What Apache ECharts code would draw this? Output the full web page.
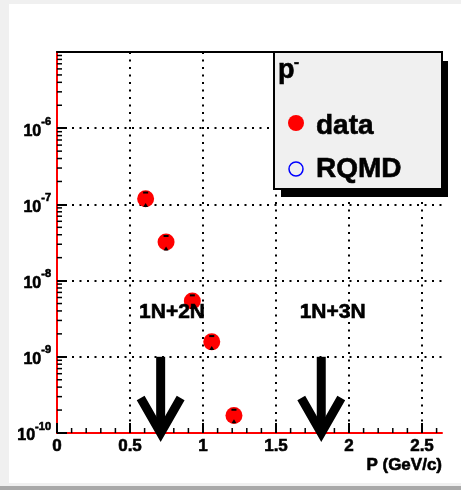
<!DOCTYPE html>
<html>
<head>
<meta charset="utf-8">
<script src="https://cdn.jsdelivr.net/npm/echarts@6/dist/echarts.min.js"></script>
<style>
  html, body { margin: 0; padding: 0; background: #f0f0f0; width: 461px; height: 490px; overflow: hidden; }
  #panel { position: absolute; left: 9px; top: 4px; width: 452px; height: 479px; background: #ffffff; }
  #strip { position: absolute; left: 0; top: 486px; width: 461px; height: 4px; background: #a8a8a8; }
  #chart { position: absolute; left: 0; top: 0; width: 461px; height: 490px; }
</style>
</head>
<body>
<div id="panel"></div>
<div id="strip"></div>
<div id="chart"></div>
<script>
// Measured antiproton yield vs momentum
const momentum = [0.607, 0.747, 0.927, 1.06, 1.212];
const yieldData = [1.19e-7, 3.2e-8, 5.4e-9, 1.57e-9, 1.7e-10];
const yieldErr = [0.24e-7, 0.65e-8, 1.0e-9, 0.3e-9, 0.32e-10];

// Production thresholds, marked with arrows
const thresholdP = [0.71, 1.81];
const thresholdNames = ['1N+2N', '1N+3N'];
const arrowFrom = [1e-9, 1e-9];
const arrowTo = [1e-10, 1e-10];
const nameP = [0.788, 1.888];
const nameY = [3.8e-9, 3.8e-9];

// Axis ranges and minor tick positions
const xRange = [0, 2.637];
const yRange = [1e-10, 1e-5];
const xTitle = 'P (GeV/c)';
const xMinorTicks = [0.1, 0.2, 0.3, 0.4, 0.6, 0.7, 0.8, 0.9, 1.1, 1.2, 1.3, 1.4,
                     1.6, 1.7, 1.8, 1.9, 2.1, 2.2, 2.3, 2.4, 2.6];
const yDecades = [-10, -9, -8, -7, -6];
const yMantissas = [2, 3, 4, 5, 6, 7, 8, 9];

const FONT = '"Liberation Sans", Arial, Helvetica, sans-serif';
// slightly heavier strokes for the bold texts
const heavyLabel = { textBorderColor: '#000', textBorderWidth: 0.6 };
const heavyText = { stroke: '#000', lineWidth: 0.6 };

const yMinorTicks = [];
yDecades.forEach(d => yMantissas.forEach(m => yMinorTicks.push([0, m * Math.pow(10, d)])));

const chart = echarts.init(document.getElementById('chart'), null, { renderer: 'canvas' });

const dotted = { color: '#000', width: 2, type: [2, 5.5] };

const option = {
  animation: false,
  backgroundColor: 'transparent',
  grid: { left: 57, top: 52, width: 385, height: 381, containLabel: false, outerBoundsMode: 'none' },
  xAxis: [{
    type: 'value', min: xRange[0], max: xRange[1], interval: 0.5,
    axisLine: { show: true, onZero: false, lineStyle: { color: '#ff0000', width: 2 } },
    axisTick: { show: true, inside: true, length: 10, lineStyle: { color: '#000', width: 2 } },
    splitLine: { show: true, showMaxLine: false, lineStyle: dotted },
    axisLabel: Object.assign({
      showMaxLabel: false, margin: 5, color: '#000',
      fontFamily: FONT, fontWeight: 'bold', fontSize: 17,
      formatter: v => String(v)
    }, heavyLabel)
  }, {
    type: 'value', position: 'top', min: xRange[0], max: xRange[1],
    axisLine: { show: true, lineStyle: { color: '#000', width: 2 } },
    axisTick: { show: false }, axisLabel: { show: false }, splitLine: { show: false }
  }],
  yAxis: [{
    type: 'log', logBase: 10, min: yRange[0], max: yRange[1], splitNumber: 5,
    axisLine: { show: true, lineStyle: { color: '#000', width: 2 } },
    axisTick: { show: true, inside: true, length: 10, lineStyle: { color: '#000', width: 2 } },
    splitLine: { show: true, lineStyle: dotted },
    axisLabel: {
      showMaxLabel: false, margin: 6, color: '#000',
      formatter: v => '{b|10}{s|' + Math.round(Math.log10(v)) + '}',
      rich: {
        b: Object.assign({ fontFamily: FONT, fontWeight: 'bold', fontSize: 16, color: '#000', lineHeight: 24, padding: [6, 0, 0, 0] }, heavyLabel),
        s: Object.assign({ fontFamily: FONT, fontWeight: 'bold', fontSize: 11, color: '#000', verticalAlign: 'top' }, heavyLabel)
      }
    }
  }, {
    type: 'log', logBase: 10, position: 'right', min: yRange[0], max: yRange[1],
    axisLine: { show: true, lineStyle: { color: '#ff0000', width: 2 } },
    axisTick: { show: false }, axisLabel: { show: false }, splitLine: { show: false }
  }],
  series: [
    {
      // minor ticks on the momentum axis
      type: 'custom', xAxisIndex: 0, yAxisIndex: 0, clip: false, silent: true, z: 3,
      data: xMinorTicks.map(v => [v, yRange[0]]),
      renderItem: (params, api) => {
        const p = api.coord([api.value(0), api.value(1)]);
        return { type: 'line', shape: { x1: p[0], y1: p[1], x2: p[0], y2: p[1] - 5 },
                 style: { stroke: '#000', lineWidth: 1.5 } };
      }
    },
    {
      // minor ticks on the log axis
      type: 'custom', xAxisIndex: 0, yAxisIndex: 0, clip: false, silent: true, z: 3,
      data: yMinorTicks,
      renderItem: (params, api) => {
        const p = api.coord([api.value(0), api.value(1)]);
        return { type: 'line', shape: { x1: p[0], y1: p[1], x2: p[0] + 5, y2: p[1] },
                 style: { stroke: '#000', lineWidth: 1.5 } };
      }
    },
    {
      name: 'data', type: 'scatter', xAxisIndex: 0, yAxisIndex: 0, z: 5,
      symbol: 'circle', symbolSize: 17,
      itemStyle: { color: '#ff0000', opacity: 1 },
      data: momentum.map((p, i) => [p, yieldData[i]])
    },
    {
      // error bar ends
      type: 'custom', xAxisIndex: 0, yAxisIndex: 0, z: 6, silent: true,
      data: momentum.map((p, i) => [p, yieldData[i] - yieldErr[i], yieldData[i] + yieldErr[i]]),
      renderItem: (params, api) => {
        const lo = api.coord([api.value(0), api.value(1)]);
        const hi = api.coord([api.value(0), api.value(2)]);
        return { type: 'group', children: [
          { type: 'line', shape: { x1: hi[0] - 2.5, y1: hi[1], x2: hi[0] + 2.5, y2: hi[1] },
            style: { stroke: '#000', lineWidth: 2 } },
          { type: 'polygon', shape: { points: [[lo[0] - 2.5, lo[1] + 1], [lo[0] + 2.5, lo[1] + 1], [lo[0], lo[1] - 3]] },
            style: { fill: '#000' } }
        ] };
      }
    },
    {
      // threshold arrows with their names
      type: 'custom', xAxisIndex: 0, yAxisIndex: 0, z: 7, clip: false, silent: true,
      data: thresholdP.map((p, i) => [p, arrowFrom[i], arrowTo[i], nameP[i], nameY[i], i]),
      renderItem: (params, api) => {
        const top = api.coord([api.value(0), api.value(1)]);
        const end = api.coord([api.value(0), api.value(2)]);
        const lbl = api.coord([api.value(3), api.value(4)]);
        const i = api.value(5);
        return { type: 'group', children: [
          { type: 'line', shape: { x1: top[0], y1: top[1], x2: end[0], y2: end[1] },
            style: { stroke: '#000', lineWidth: 9, lineCap: 'butt' } },
          { type: 'polyline', shape: { points: [[end[0] - 20, end[1] - 35], [end[0], end[1]], [end[0] + 20, end[1] - 35]] },
            style: { stroke: '#000', lineWidth: 9, lineJoin: 'miter', miterLimit: 10, lineCap: 'butt', fill: null } },
          { type: 'text', x: lbl[0], y: lbl[1],
            style: Object.assign({ text: thresholdNames[i], align: 'center', verticalAlign: 'middle',
                     font: 'bold 21px ' + FONT, fill: '#000' }, heavyText) }
        ] };
      }
    }
  ],
  graphic: [
    // axis title, right-aligned under the momentum axis
    { type: 'text', z: 50, x: 442, y: 465,
      style: Object.assign({ text: xTitle, font: 'bold 17px ' + FONT, fill: '#000',
        align: 'right', verticalAlign: 'middle' }, heavyText) },
    // legend box with drop shadow
    { type: 'rect', z: 100, shape: { x: 281, y: 61, width: 167, height: 136 }, style: { fill: '#000' } },
    { type: 'rect', z: 101, shape: { x: 274, y: 52, width: 168, height: 137 },
      style: { fill: '#f0f0f0', stroke: '#000', lineWidth: 2 } },
    { type: 'text', z: 102, x: 278, y: 71,
      style: Object.assign({ text: 'p', font: 'bold 27px ' + FONT, fill: '#000', verticalAlign: 'middle' }, heavyText) },
    { type: 'text', z: 102, x: 294, y: 63,
      style: Object.assign({ text: '-', font: 'bold 15px ' + FONT, fill: '#000', verticalAlign: 'middle' }, heavyText) },
    { type: 'circle', z: 102, shape: { cx: 296, cy: 123, r: 8 }, style: { fill: '#ff0000' } },
    { type: 'text', z: 102, x: 316, y: 126,
      style: Object.assign({ text: 'data', font: 'bold 28px ' + FONT, fill: '#000', verticalAlign: 'middle' }, heavyText) },
    { type: 'circle', z: 102, shape: { cx: 296, cy: 169, r: 7 }, style: { fill: null, stroke: '#0000ff', lineWidth: 1.5 } },
    { type: 'text', z: 102, x: 316, y: 169,
      style: Object.assign({ text: 'RQMD', font: 'bold 28px ' + FONT, fill: '#000', verticalAlign: 'middle' }, heavyText) }
  ]
};

chart.setOption(option);
</script>
</body>
</html>
